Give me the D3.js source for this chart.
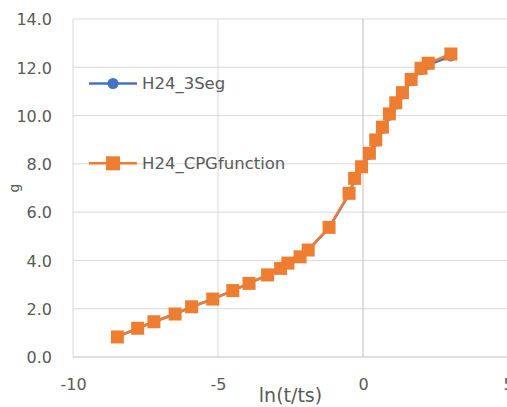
<!DOCTYPE html>
<html>
<head>
<meta charset="utf-8">
<script src="https://cdn.jsdelivr.net/npm/d3@7"></script>
<style>
  html, body { margin: 0; padding: 0; background: #fff; overflow: hidden; }
  svg { display: block; }
  text { font-family: "DejaVu Sans", sans-serif; fill: #595959; }
</style>
</head>
<body>
<svg id="chart" width="507" height="407"></svg>
<script>
// ---- data ----
const xValues = [-8.47, -7.77, -7.21, -6.48, -5.91, -5.18, -4.49, -3.93, -3.29, -2.84, -2.59, -2.17, -1.89,
                 -1.17, -0.48, -0.29, -0.05, 0.22, 0.44, 0.67, 0.91, 1.13, 1.36, 1.66, 2.00, 2.25, 3.03];
const cpgValues = [0.83, 1.19, 1.46, 1.78, 2.08, 2.40, 2.75, 3.05, 3.40, 3.67, 3.89, 4.15, 4.43,
                   5.37, 6.78, 7.40, 7.88, 8.44, 8.99, 9.52, 10.07, 10.53, 10.95, 11.50, 11.96, 12.17, 12.55];
const seg3Values = [0.83, 1.19, 1.46, 1.78, 2.08, 2.40, 2.75, 3.05, 3.40, 3.67, 3.89, 4.15, 4.43,
                    5.35, 6.74, 7.34, 7.82, 8.38, 8.92, 9.45, 9.99, 10.45, 10.87, 11.42, 11.88, 12.10, 12.45];
const seriesNames = ["H24_3Seg", "H24_CPGfunction"];
const xTicks = [-10, -5, 0, 5];
const yTicks = [0, 2, 4, 6, 8, 10, 12, 14];
const xTitle = "ln(t/ts)";
const yTitle = "g";

(function () {
// ---- layout ----
const svg = d3.select("#chart");
const pL = 73, pR = 508, pT = 19, pB = 357;
const x = d3.scaleLinear().domain([-10, 5]).range([pL, pR]);
const y = d3.scaleLinear().domain([0, 14]).range([pB, pT]);

// gridlines
svg.append("g").selectAll("line").data(yTicks.filter(d => d !== 0)).join("line")
  .attr("x1", pL).attr("x2", pR)
  .attr("y1", d => y(d)).attr("y2", d => y(d))
  .attr("stroke", "#d9d9d9").attr("stroke-width", 1);
svg.append("g").selectAll("line").data(xTicks.filter(d => d !== 0)).join("line")
  .attr("x1", d => x(d)).attr("x2", d => x(d))
  .attr("y1", pT).attr("y2", pB)
  .attr("stroke", "#d9d9d9").attr("stroke-width", 1);

// axis lines
svg.append("line").attr("x1", pL).attr("x2", pR).attr("y1", y(0)).attr("y2", y(0))
  .attr("stroke", "#bfbfbf").attr("stroke-width", 1);
svg.append("line").attr("x1", x(0)).attr("x2", x(0)).attr("y1", pT).attr("y2", pB)
  .attr("stroke", "#bfbfbf").attr("stroke-width", 1);

// tick labels
const yAxis = d3.axisLeft(y).tickValues(yTicks).tickFormat(d3.format(".1f")).tickSize(0).tickPadding(0);
const gy = svg.append("g").attr("transform", `translate(52,0)`).call(yAxis);
gy.select(".domain").remove();
gy.selectAll("text").attr("font-size", 16).attr("font-family", "DejaVu Sans").attr("fill", "#595959")
  .attr("dy", "0.36em");

const xAxis = d3.axisBottom(x).tickValues(xTicks).tickFormat(d3.format("d")).tickSize(0).tickPadding(0);
const gx = svg.append("g").attr("transform", `translate(0,${pB + 22})`).call(xAxis);
gx.select(".domain").remove();
gx.selectAll("text").attr("font-size", 16).attr("font-family", "DejaVu Sans").attr("fill", "#595959")
  .attr("dy", "0.7em").text(d => d < 0 ? "-" + Math.abs(d) : d);

// axis titles
svg.append("text").attr("x", (pL + pR) / 2).attr("y", 402).attr("text-anchor", "middle")
  .attr("font-size", 19).text(xTitle);
svg.append("text").attr("transform", `translate(19,${(pT + pB) / 2}) rotate(-90)`)
  .attr("text-anchor", "middle").attr("font-size", 14).text(yTitle);

// series
const blue = "#4472C4", orange = "#ED7D31";
const pts3 = xValues.map((v, i) => [v, seg3Values[i]]);
const ptsC = xValues.map((v, i) => [v, cpgValues[i]]);
const line = d3.line().x(d => x(d[0])).y(d => y(d[1]));

svg.append("path").datum(pts3).attr("d", line).attr("fill", "none")
  .attr("stroke", blue).attr("stroke-width", 2.5);
svg.append("g").selectAll("circle").data(pts3).join("circle")
  .attr("cx", d => x(d[0])).attr("cy", d => y(d[1])).attr("r", 5).attr("fill", blue);

svg.append("path").datum(ptsC).attr("d", line).attr("fill", "none")
  .attr("stroke", orange).attr("stroke-width", 2.5);
const sq = 13;
svg.append("g").selectAll("rect").data(ptsC).join("rect")
  .attr("x", d => x(d[0]) - sq / 2).attr("y", d => y(d[1]) - sq / 2)
  .attr("width", sq).attr("height", sq).attr("fill", orange);

// legend
const leg = svg.append("g");
const legY = [83.5, 163.3];
leg.append("line").attr("x1", 89).attr("x2", 137).attr("y1", legY[0]).attr("y2", legY[0])
  .attr("stroke", blue).attr("stroke-width", 2.5);
leg.append("circle").attr("cx", 113).attr("cy", legY[0]).attr("r", 5.5).attr("fill", blue);
leg.append("line").attr("x1", 89).attr("x2", 137).attr("y1", legY[1]).attr("y2", legY[1])
  .attr("stroke", orange).attr("stroke-width", 2.5);
leg.append("rect").attr("x", 113 - 7).attr("y", legY[1] - 7).attr("width", 14).attr("height", 14).attr("fill", orange);
leg.selectAll("text").data(seriesNames).join("text")
  .attr("x", 142).attr("y", (d, i) => legY[i]).attr("dy", "0.36em")
  .attr("font-size", 16.5).text(d => d);
})();
</script>
</body>
</html>
